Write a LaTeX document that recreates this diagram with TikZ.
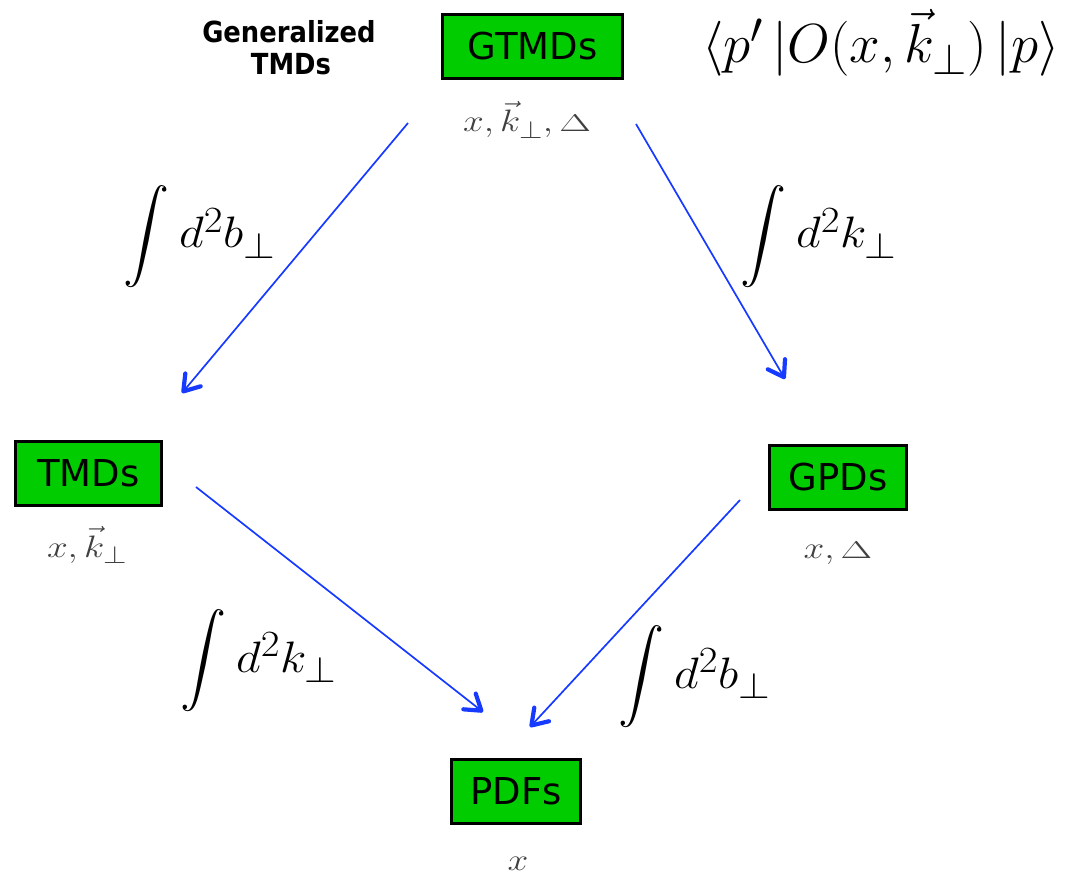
\documentclass[tikz,border=0pt]{standalone}
\usepackage{fix-cm}
\usepackage{fontspec}
\usetikzlibrary{arrows.meta}
\newfontfamily\boxfont{DejaVu Sans}
% large operators scale with the font size
\DeclareFontShape{OMX}{cmex}{m}{n}{<->cmex10}{}
% roomier sub- and superscripts at the sizes used below
\DeclareMathSizes{31}{31}{25}{19}
\DeclareMathSizes{44}{44}{37}{30}
\DeclareMathSizes{55}{55}{44}{35}

\definecolor{boxgreen}{RGB}{0,204,0}
\definecolor{arrowblue}{RGB}{22,58,255}

% integral sign followed by the integration measure
\newcommand{\intover}[1]{{\fontsize{46}{50}\selectfont$\displaystyle\int$}\hspace{10pt}\scalebox{1.1}[1]{$#1$}}
% flattened capital Delta
\newcommand{\flatDelta}{\scalebox{1.1}[0.78]{$\Delta$}}

\tikzset{
  dist/.style={draw=black, line width=3pt, fill=boxgreen, text=black,
    font=\boxfont\fontsize{37}{40}\selectfont, minimum height=64pt, inner sep=0pt},
  var/.style={text=black!75, inner sep=0pt, anchor=base, font=\fontsize{31}{34}\selectfont},
  integ/.style={inner sep=0pt, anchor=base west, font=\fontsize{44}{48}\selectfont},
  head/.style={inner sep=0pt, anchor=base, font=\boxfont\bfseries\fontsize{29}{32}\selectfont},
  flow/.style={arrowblue, line width=1.7pt,
    -{Straight Barb[length=15pt,width=20pt,line width=4.2pt,round]}},
}

\begin{document}
\begin{tikzpicture}[x=1pt,y=-1pt]
\useasboundingbox (0,0) rectangle (1068,882);

% distribution boxes
\node[dist, minimum width=180pt] (gtmd) at (532.5,46.5) {GTMDs};
\node[dist, minimum width=146pt] (tmd)  at (88.5,473.5) {TMDs};
\node[dist, minimum width=137pt] (gpd)  at (838,477)    {GPDs};
\node[dist, minimum width=129pt] (pdf)  at (516,791.5)  {PDFs};

% variables each distribution depends on
\node[var] (gtmdvar) at (527,132) {\scalebox{1.2}[1]{$x,\vec k_\perp,\mbox{\flatDelta}$}};
\node[var] (tmdvar)  at (87,557)  {\scalebox{1.2}[1]{$x,\vec k_\perp$}};
\node[var] (gpdvar)  at (838,558) {\scalebox{1.2}[1]{$x,\mbox{\flatDelta}$}};
\node[var] (pdfvar)  at (518,870) {\scalebox{1.2}[1]{$x$}};

% heading and matrix element
\node[head] (gen1) at (289,43) {\scalebox{0.89}[1]{Generalized}};
\node[head] (gen2) at (291,75) {\scalebox{0.89}[1]{TMDs}};
\node[inner sep=0pt, anchor=base west, font=\fontsize{55}{58}\selectfont] (melem) at (702,63)
  {$\langle p'\,|O(x,\vec k_\perp)\,|p\rangle$};

% integrations
\node[integ] (intb1) at (123,248) {\intover{d^2b_\perp}};
\node[integ] (intk1) at (740,248) {\intover{d^2k_\perp}};
\node[integ] (intk2) at (180,672) {\intover{d^2k_\perp}};
\node[integ] (intb2) at (618,688) {\intover{d^2b_\perp}};

% arrow ends
\coordinate (a1s) at (408,123); \coordinate (a1e) at (182,393);
\coordinate (a2s) at (636,124); \coordinate (a2e) at (785,379);
\coordinate (a3s) at (196,487); \coordinate (a3e) at (483,712);
\coordinate (a4s) at (740,500); \coordinate (a4e) at (530,727);

\draw[flow] (a1s) -- (a1e);
\draw[flow] (a2s) -- (a2e);
\draw[flow] (a3s) -- (a3e);
\draw[flow] (a4s) -- (a4e);
\end{tikzpicture}
\end{document}
